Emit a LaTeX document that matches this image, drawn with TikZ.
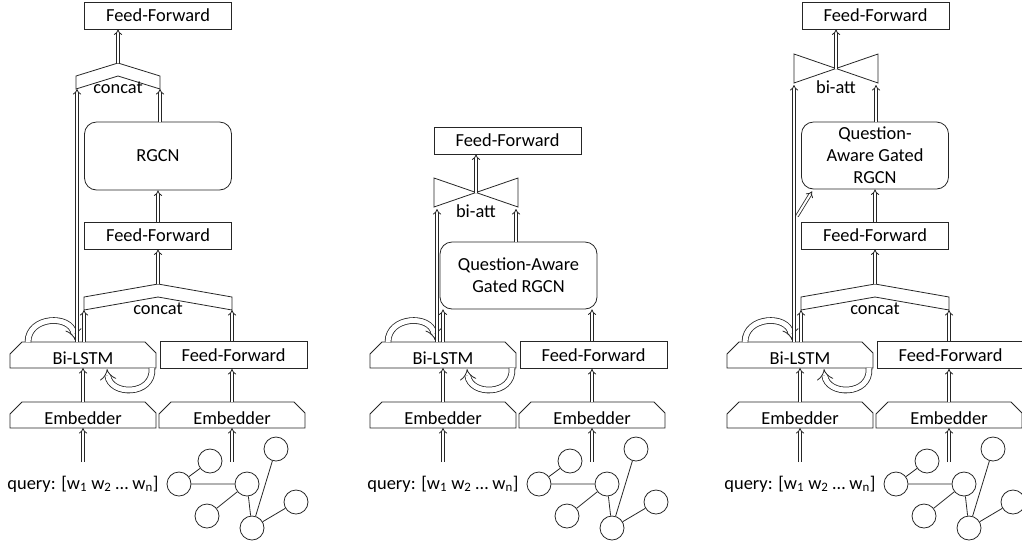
\documentclass[tikz,border=0pt]{standalone}
\usepackage{fontspec}
\setmainfont{Carlito}
\usetikzlibrary{arrows.meta,calc}
\newcommand\chambox[4]{%
  \draw[ln] (#2-73,#3+26) -- (#2-73,#3+12) -- (#2-61,#3) -- (#2+62,#3) -- (#2+73,#3+11) -- (#2+73,#3+26) -- cycle;
  \node[lbl] (#1) at (#2,#3+16) {#4};
  \coordinate (#1-n) at (#2,#3);
  \coordinate (#1-s) at (#2,#3+26);
}
\newcommand\concatshape[5]{%
  \draw[ln] (#2,#4+13) -- ({(#2+#3)/2},#4) -- (#3,#4+13) -- (#3,#4+26) -- ({(#2+#3)/2},#4+13) -- (#2,#4+26) -- cycle;
  \node[lbl] (#1) at ({(#2+#3)/2},#4+25) {#5};
  \coordinate (#1-top) at ({(#2+#3)/2},#4);
  \coordinate (#1-l) at (#2+1,#4+26);
  \coordinate (#1-r) at (#3,#4+26);
}
\newcommand\biatt[6]{%
  \draw[ln] (#2,#4) -- (#3,#5) -- (#3,#4) -- (#2,#5) -- cycle;
  \node[lbl] (#1) at ({(#2+#3)/2},#5+4) {#6};
  \coordinate (#1-c) at ({(#2+#3)/2},{(#4+#5)/2});
  \coordinate (#1-l) at (#2+2,#5+2);
  \coordinate (#1-r) at (#3-2,#5+2);
}
\newcommand\kg[2]{%
  \node[gn] (#1a) at (210+#2,461) {};
  \node[gn] (#1b) at (179+#2,484) {};
  \node[gn] (#1c) at (247+#2,484) {};
  \node[gn] (#1d) at (276+#2,449) {};
  \node[gn] (#1e) at (207+#2,516) {};
  \node[gn] (#1f) at (252+#2,528) {};
  \node[gn] (#1g) at (296+#2,502) {};
  \draw[ln] (#1a) -- (#1b) (#1b) -- (#1c) (#1c) -- (#1e) (#1c) -- (#1f) (#1f) -- (#1d) (#1f) -- (#1g);
}
\newcommand\lowerpanel[2]{%
  \chambox{#1bil}{83+#2}{342}{Bi-LSTM}
  \node[ffbox] (#1ffb) at (233.5+#2,355) {Feed-Forward};
  \chambox{#1ea}{83+#2}{402}{Embedder}
  \chambox{#1eb}{232+#2}{402}{Embedder}
  \node[lbl] (#1q) at (83+#2,484) {query: [w\textsubscript{1} w\textsubscript{2} … w\textsubscript{n}]};
  \kg{#1g}{#2}
  \coordinate (#1qa) at (83+#2,462);
  \coordinate (#1ga) at (232+#2,462);
  \draw[arr] (#1qa) -- (#1ea-s);
  \draw[arr] (#1ga) -- (#1eb-s);
  \draw[arr] (#1ea-n) -- (#1bil-s);
  \draw[arr] (#1eb-n) -- (#1eb-n |- #1ffb.south);
  \draw[selfarr] ([xshift=-55pt]#1bil-n) .. controls +(0,-26) and +(-4,-26) .. ([xshift=-8pt,yshift=2pt]#1bil-n);
  \draw[selfarr] ([xshift=69pt]#1bil-s) .. controls +(2,28) and +(3,27) .. ([xshift=24pt,yshift=-1pt]#1bil-s);
}
\begin{document}
\begin{tikzpicture}[x=1pt,y=-1pt,
  ln/.style={draw=black!85,line width=0.8pt},
  lbl/.style={font=\fontsize{18.4}{22}\selectfont,inner sep=0pt},
  ffbox/.style={ln,lbl,minimum width=147pt,minimum height=27pt},
  rbox/.style={ffbox,rounded corners=12pt,align=center},
  arr/.style={draw=black!85,line width=0.8pt,double distance=2pt,-{Implies}},
  selfarr/.style={draw=black!85,line width=0.8pt,double distance=5pt,-{Implies}},
  gn/.style={circle,ln,minimum size=24pt,inner sep=0pt}
]
\useasboundingbox (0,0) rectangle (1022,542);

% ---------- panel 1 ----------
\lowerpanel{pa}{0}
\node[ffbox] (pafft) at (158,15.5) {Feed-Forward};
\concatshape{paca}{76}{160}{63}{concat}
\node[rbox,minimum height=68pt] (parg) at (158,156) {RGCN};
\node[ffbox] (paffm) at (158,235.5) {Feed-Forward};
\concatshape{pacb}{84}{232}{284}{concat}
\draw[arr] (paca-top) -- (paca-top |- pafft.south);
\draw[arr] ([xshift=-6pt]pabil-n) -- ([xshift=-6pt]pabil-n |- paca-l);
\draw[arr] (parg.north -| paca-r) -- (paca-r);
\draw[arr] (paffm.north) -- (parg.south);
\draw[arr] (pacb-top) -- (pacb-top |- paffm.south);
\draw[arr] ([xshift=1pt]pabil-n) -- ([xshift=1pt]pabil-n |- pacb-l);
\draw[arr] (pacb-r |- paffb.north) -- (pacb-r);

% ---------- panel 2 ----------
\lowerpanel{pb}{360}
\node[ffbox] (pbfft) at (507.5,140.5) {Feed-Forward};
\biatt{pbba}{434}{518}{178}{207}{bi-att}
\node[rbox,minimum width=157pt,minimum height=67pt] (pbqg) at (518.5,275.5) {Question-Aware\\Gated RGCN};
\draw[arr] (pbba-c) -- (pbba-c |- pbfft.south);
\draw[arr] ([xshift=-6pt]pbbil-n) -- ([xshift=-6pt]pbbil-n |- pbba-l);
\draw[arr] (pbqg.north -| pbba-r) -- (pbba-r);
\draw[arr] (pbbil-n) -- (pbbil-n |- pbqg.south);
\draw[arr] (pbffb.north -| pbeb-n) -- (pbeb-n |- pbqg.south);

% ---------- panel 3 ----------
\lowerpanel{pc}{717}
\node[ffbox] (pcfft) at (875.5,15.5) {Feed-Forward};
\biatt{pcba}{794}{878}{54}{83}{bi-att}
\node[rbox,minimum height=67pt] (pcqg) at (875,155.5) {Question-\\Aware Gated\\RGCN};
\node[ffbox] (pcffm) at (875,235.5) {Feed-Forward};
\concatshape{pccb}{801}{949}{284}{concat}
\draw[arr] (pcba-c) -- (pcba-c |- pcfft.south);
\draw[arr] ([xshift=-6pt]pcbil-n) -- ([xshift=-6pt]pcbil-n |- pcba-l);
\draw[arr] (pcqg.north -| pcba-r) -- (pcba-r);
\draw[arr] (pcffm.north) -- (pcqg.south);
\draw[arr] (pccb-top) -- (pccb-top |- pcffm.south);
\draw[arr] ([xshift=1pt]pcbil-n) -- ([xshift=1pt]pcbil-n |- pccb-l);
\draw[arr] (pccb-r |- pcffb.north) -- (pccb-r);
\coordinate (pcbr) at (797,216);
\draw[arr] (pcbr) -- ([xshift=11pt,yshift=-2pt]pcqg.south west);
\end{tikzpicture}
\end{document}
